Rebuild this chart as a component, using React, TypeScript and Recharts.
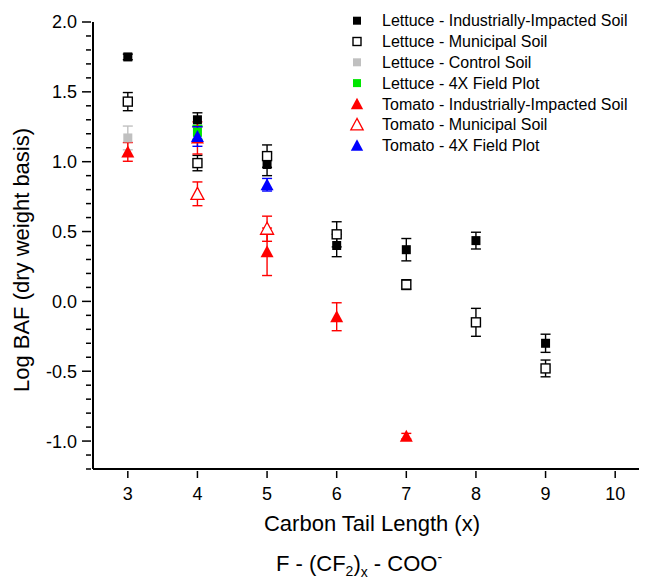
import { ScatterChart, Scatter, XAxis, YAxis, ErrorBar, Customized } from 'recharts';

// carbon tail length per series
const lettIndX = [3, 4, 5, 6, 7, 8, 9];
const lettIndY = [1.75, 1.3, 0.98, 0.4, 0.37, 0.435, -0.3];
const lettIndErr = [0.02, 0.05, 0.08, 0.08, 0.08, 0.06, 0.065];

const lettMunX = [3, 4, 5, 6, 7, 8, 9];
const lettMunY = [1.43, 0.99, 1.04, 0.48, 0.12, -0.15, -0.48];
const lettMunErr = [0.065, 0.055, 0.08, 0.09, 0.035, 0.1, 0.06];

const lettCtrlX = [3];
const lettCtrlY = [1.17];
const lettCtrlErr = [0.085];

const lett4xX = [4];
const lett4xY = [1.21];
const lett4xErr = [0.05];

const tomIndX = [3, 4, 5, 6, 7];
const tomIndY = [1.07, 1.17, 0.355, -0.11, -0.965];
const tomIndErr = [0.067, 0.115, 0.17, 0.1, 0.02];

const tomMunX = [4, 5];
const tomMunY = [0.77, 0.52];
const tomMunErr = [0.085, 0.09];

const tom4xX = [4, 5];
const tom4xY = [1.18, 0.835];
const tom4xErr = [0.07, 0.045];

const xTicks = [3, 4, 5, 6, 7, 8, 9, 10];
const yTicks = [
  2.0, 1.9, 1.8, 1.7, 1.6, 1.5, 1.4, 1.3, 1.2, 1.1, 1.0, 0.9, 0.8, 0.7, 0.6, 0.5, 0.4, 0.3, 0.2, 0.1, 0.0,
  -0.1, -0.2, -0.3, -0.4, -0.5, -0.6, -0.7, -0.8, -0.9, -1.0, -1.1, -1.2,
];

const build = (xs: number[], ys: number[], errs: number[]) =>
  xs.map((x, i) => ({ x, y: ys[i], err: errs[i] }));

const series = [
  { name: 'Lettuce - Industrially-Impacted Soil', data: build(lettIndX, lettIndY, lettIndErr), color: '#000000', shape: 'square', filled: true },
  { name: 'Lettuce - Municipal Soil', data: build(lettMunX, lettMunY, lettMunErr), color: '#000000', shape: 'square', filled: false },
  { name: 'Lettuce - Control Soil', data: build(lettCtrlX, lettCtrlY, lettCtrlErr), color: '#c0c0c0', shape: 'square', filled: true },
  { name: 'Lettuce - 4X Field Plot', data: build(lett4xX, lett4xY, lett4xErr), color: '#00e600', shape: 'square', filled: true },
  { name: 'Tomato - Industrially-Impacted Soil', data: build(tomIndX, tomIndY, tomIndErr), color: '#ff0000', shape: 'triangle', filled: true },
  { name: 'Tomato - Municipal Soil', data: build(tomMunX, tomMunY, tomMunErr), color: '#ff0000', shape: 'triangle', filled: false },
  { name: 'Tomato - 4X Field Plot', data: build(tom4xX, tom4xY, tom4xErr), color: '#0000ff', shape: 'triangle', filled: true },
];

const FONT = '"Liberation Sans", Arial, sans-serif';

function Marker({ cx, cy, shape, filled, color, size }: any) {
  if (shape === 'square') {
    const s = size;
    return (
      <rect
        x={cx - s / 2}
        y={cy - s / 2}
        width={s}
        height={s}
        fill={filled ? color : '#ffffff'}
        stroke={color}
        strokeWidth={filled ? 0 : 1.4}
      />
    );
  }
  const w = size * 1.3;
  const h = size * 1.1;
  return (
    <polygon
      points={`${cx},${cy - h / 2 - 1} ${cx - w / 2},${cy + h / 2} ${cx + w / 2},${cy + h / 2}`}
      fill={filled ? color : '#ffffff'}
      stroke={color}
      strokeWidth={filled ? 0 : 1.3}
    />
  );
}

const YTick = ({ x, y, payload }: any) => {
  const v = payload.value;
  const major = Math.abs(Math.round(v * 2) - v * 2) < 1e-6;
  const len = major ? 9 : 5;
  return (
    <g>
      <line x1={x - len} y1={y} x2={x} y2={y} stroke="#000" strokeWidth={1.5} />
      {major && (
        <text x={x - 14} y={y} dy="0.36em" textAnchor="end" fontSize={18} fontFamily={FONT} fill="#000">
          {v.toFixed(1)}
        </text>
      )}
    </g>
  );
};

const XTick = ({ x, y, payload }: any) => (
  <g>
    <line x1={x} y1={y} x2={x} y2={y + 7} stroke="#000" strokeWidth={1.5} />
    <text x={x} y={y + 29} textAnchor="middle" fontSize={18} fontFamily={FONT} fill="#000">
      {payload.value}
    </text>
  </g>
);

const Titles = () => (
  <g fontFamily={FONT} fill="#000">
    <text x={372} y={531} textAnchor="middle" fontSize={22}>
      Carbon Tail Length (x)
    </text>
    <text x={359} y={571} textAnchor="middle" fontSize={22}>
      F - (CF<tspan fontSize={14} dy={5}>2</tspan>
      <tspan dy={-5}>)</tspan>
      <tspan fontSize={14} dy={6}>x</tspan>
      <tspan dy={-6}> - COO</tspan>
      <tspan fontSize={14} dy={-9}>-</tspan>
    </text>
    <text x={29} y={260} textAnchor="middle" fontSize={22} transform="rotate(-90 29 260)">
      Log BAF (dry weight basis)
    </text>
    <g>
      {series.map((s, i) => (
        <g key={s.name}>
          <Marker cx={357} cy={20.7 + i * 20.8} shape={s.shape} filled={s.filled} color={s.color} size={s.shape === 'square' ? 8 : 9.5} />
          <text x={382} y={20.7 + i * 20.8} dy="0.36em" fontSize={16}>
            {s.name}
          </text>
        </g>
      ))}
    </g>
  </g>
);

export default function App() {
  return (
    <div style={{ margin: -8, width: 647, height: 585, overflow: 'hidden', background: '#fff' }}>
      <ScatterChart width={650} height={585} margin={{ top: 22, right: 0, left: 0, bottom: 0 }}>
        <XAxis
          type="number"
          dataKey="x"
          domain={[2.5, 10.5]}
          ticks={xTicks}
          tickLine={false}
          tickSize={0}
          height={116}
          tick={<XTick />}
          axisLine={{ stroke: '#000', strokeWidth: 2 }}
          allowDataOverflow
        />
        <YAxis
          type="number"
          dataKey="y"
          domain={[-1.2, 2.0]}
          ticks={yTicks}
          interval={0}
          tickLine={false}
          tickSize={0}
          width={93}
          tick={<YTick />}
          axisLine={{ stroke: '#000', strokeWidth: 2 }}
          allowDataOverflow
        />
        {series.map((s) => (
          <Scatter
            key={s.name}
            name={s.name}
            data={s.data}
            isAnimationActive={false}
            shape={(p: any) => (
              <Marker cx={p.cx} cy={p.cy} shape={s.shape} filled={s.filled} color={s.color} size={s.shape === 'square' ? 9 : 10} />
            )}
          >
            <ErrorBar dataKey="err" direction="y" width={5} stroke={s.color} strokeWidth={1.4} isAnimationActive={false} />
          </Scatter>
        ))}
        <Customized component={Titles} />
      </ScatterChart>
    </div>
  );
}
